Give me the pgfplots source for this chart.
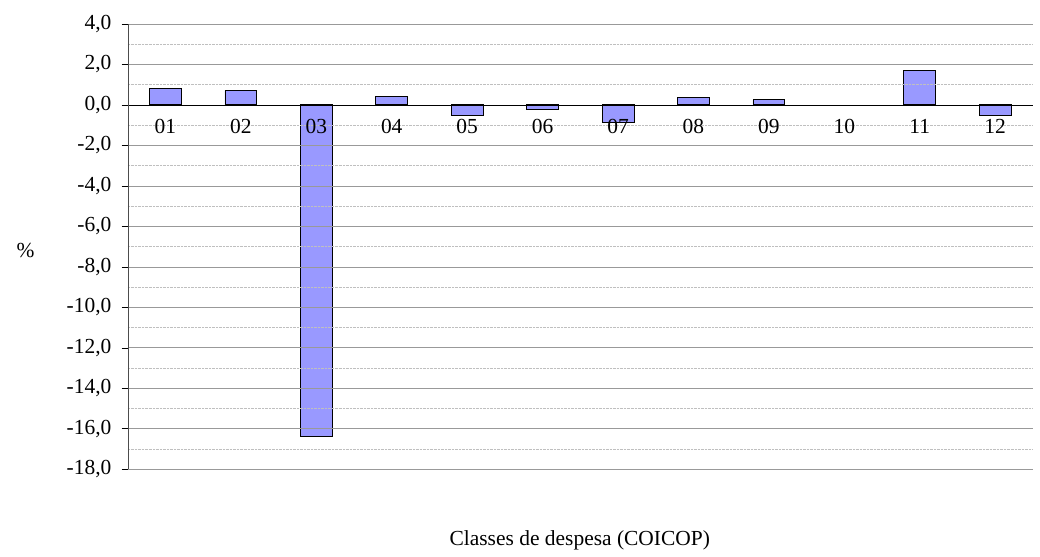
\documentclass[border=0pt]{standalone}
\usepackage{pgfplots}
\pgfplotsset{compat=1.18}
\usepackage{fontspec}
\setmainfont{Liberation Serif}
\pgfplotsset{layers/mine/.define layer set={axis background,axis grid,bars,axis ticks,axis lines,axis tick labels,main,axis descriptions,axis foreground}{}}
\begin{document}
\fontsize{21.5}{25}\selectfont
\begin{tikzpicture}[x=1pt,y=1pt]
\path (0,0) rectangle (1040,556);
\begin{axis}[at={(128pt,86pt)},anchor=south west, set layers=mine,
 scale only axis, width=907pt, height=446pt,
 xmin=0.5, xmax=12.5, ymin=-18, ymax=4,
 axis x line=middle, axis y line=left,
 axis line style={-, black!70},
 x axis line style={black},
 xtick={1,...,12}, xticklabels={01,02,03,04,05,06,07,08,09,10,11,12},
 major x tick style={draw=none},
 xticklabel style={anchor=north, yshift=-1pt},
 extra x ticks={0.5,1.5,...,12.5}, extra x tick labels={},
 extra x tick style={tick style={black}, major tick length=6pt, tick align=center, grid=none},
 ytick={-18,-16,...,4}, minor ytick={-17,-15,...,3},
 yticklabel={\pgfmathprintnumber[fixed,fixed zerofill,precision=1,use comma]{\tick}},
 yticklabel style={xshift=-3pt},
 /pgf/number format/assume math mode=true,
 ymajorgrids, yminorgrids,
 major grid style={black!40, line width=0.4pt},
 minor grid style={black!25, densely dotted, line width=0.4pt},
 ytick style={black}, tick align=outside, major tick length=6pt,
 minor y tick style={draw=none},
 ylabel={\%}, ylabel style={rotate=-90, at={(axis description cs:-0.095,0.49)}},
]
\addplot[ybar, bar width=32pt, fill=blue!40!white, draw=black, line width=0.8pt, on layer=bars] coordinates {
(1,0.8) (2,0.7) (3,-16.4) (4,0.4) (5,-0.5) (6,-0.2) (7,-0.85) (8,0.35) (9,0.25) (11,1.7) (12,-0.5)};
\end{axis}
\node at (581,15) {Classes de despesa (COICOP)};
\end{tikzpicture}
\end{document}
